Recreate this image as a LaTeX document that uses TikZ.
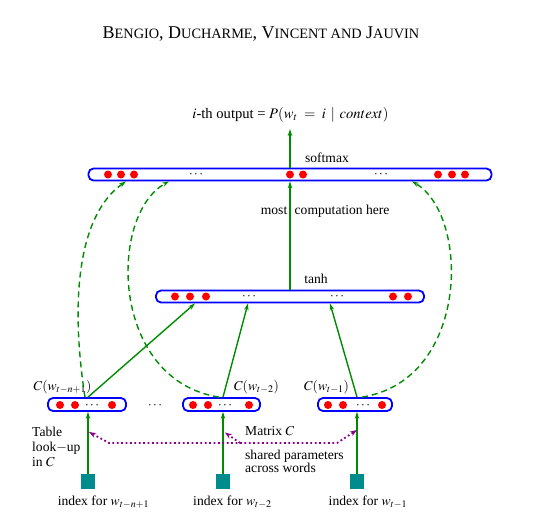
\documentclass[tikz,border=0pt]{standalone}
\usepackage{mathptmx}
\usepackage{fontspec}
\setmainfont{Liberation Serif}
\usetikzlibrary{arrows.meta,calc}
\definecolor{lblue}{RGB}{0,0,255}
\definecolor{dred}{RGB}{255,0,0}
\definecolor{dgreen}{RGB}{0,140,0}
\definecolor{dpurple}{RGB}{140,0,140}
\definecolor{dteal}{RGB}{0,140,140}
\newcommand\myscap[1]{{\fontsize{14.3}{15}\selectfont #1}}
\begin{document}
\begin{tikzpicture}[x=1pt,y=-1pt,
  layer/.style={draw=lblue, line width=1.8pt, rounded corners=5pt, inner sep=0pt, minimum height=12pt},
  rdot/.style={fill=dred},
  garr/.style={draw=dgreen, line width=1.4pt, -{Stealth[length=7pt,width=4.5pt]}},
  gdash/.style={garr, dash pattern=on 6pt off 4pt},
  parr/.style={draw=dpurple, line width=1.8pt, dash pattern=on 1.8pt off 2.6pt, {Stealth[length=7pt,width=5pt]}-{Stealth[length=7pt,width=5pt]}},
  parr1/.style={draw=dpurple, line width=1.8pt, dash pattern=on 1.8pt off 2.6pt, -{Stealth[length=7pt,width=5pt]}},
  idx/.style={fill=dteal, minimum width=14pt, minimum height=15pt, inner sep=0pt},
  lbl/.style={inner sep=0pt, font=\fontsize{13.6}{15}\selectfont},
  dts/.style={inner sep=0pt, font=\fontsize{13.2}{15}\selectfont, anchor=base},
]
\useasboundingbox (0,0) rectangle (549,522);
\fill[white] (0,0) rectangle (549,522);

% header
\node[inner sep=0pt, anchor=base, font=\fontsize{18}{20}\selectfont] (hdr) at (261,38.3)
  {B\myscap{ENGIO}, D\myscap{UCHARME}, V\myscap{INCENT AND} J\myscap{AUVIN}};

% output text
\node[lbl, anchor=base, font=\fontsize{14.6}{16}\selectfont] (out) at (290.5,118.5) {$i$-th output = $P(w_t \;=\; i \;\,|\;\, context)$};
\coordinate (outtip) at (290,129);

% softmax layer
\node[layer, minimum width=403pt] (soft) at (290,174.5) {};
\foreach \x in {108,121,134,290,303,438,452,465} \fill[rdot] (\x,174.5) circle (4);
\node[dts] (sd1) at (196,177.8) {$\cdots$};
\node[dts] (sd2) at (381,177.8) {$\cdots$};
\node[lbl, anchor=base] (softlbl) at (327,162.7) {softmax};

% tanh layer
\node[layer, minimum width=268pt] (tanh) at (290,296.5) {};
\foreach \x in {175,190,206,393,408} \fill[rdot] (\x,296.5) circle (4);
\node[dts] (td1) at (249,299.8) {$\cdots$};
\node[dts] (td2) at (337,299.8) {$\cdots$};
\node[lbl, anchor=base] (tanhlbl) at (316,283.3) {tanh};

% most computation here
\node[lbl, anchor=base east] (most) at (287.5,214) {most};
\node[lbl, anchor=base west] (comp) at (294.5,214) {computation here};

% bottom layers
\node[layer, minimum width=78pt, minimum height=13pt] (b1) at (87,404.5) {};
\node[layer, minimum width=77pt, minimum height=13pt] (b2) at (221.5,404.5) {};
\node[layer, minimum width=74pt, minimum height=13pt] (b3) at (355,404.5) {};
\foreach \x in {60,75,112,193,208,249,328,343,382} \fill[rdot] (\x,405) circle (4);
\node[dts] (bd1) at (92,408.3) {$\cdots$};
\node[dts] (bd2) at (225,408.3) {$\cdots$};
\node[dts] (bd3) at (363,408.3) {$\cdots$};
\node[dts] (bdm) at (155,408.3) {$\cdots$};

\node[lbl, anchor=base] (c1) at (62.5,390) {$C(w_{t-n+1})$};
\node[lbl, anchor=base] (c2) at (256.5,390) {$C(w_{t-2})$};
\node[lbl, anchor=base] (c3) at (326.5,390) {$C(w_{t-1})$};

% index squares
\node[idx] (s1) at (88,481.5) {};
\node[idx] (s2) at (223,481.5) {};
\node[idx] (s3) at (357,481.5) {};
\node[lbl, anchor=base] (l1) at (103.5,505.5) {index for $w_{t-n+1}$};
\node[lbl, anchor=base] (l2) at (232.5,505.5) {index for $w_{t-2}$};
\node[lbl, anchor=base] (l3) at (368,505.5) {index for $w_{t-1}$};

% side texts
\node[lbl, align=left, anchor=north west] (tbl) at (32,427) {Table\\look$-$up\\in $C$};
\node[lbl, anchor=base west] (mat) at (245,435) {Matrix $C$};
\node[lbl, align=left, anchor=north west, font=\fontsize{13.6}{12.4}\selectfont] (shr) at (245,450.3) {shared parameters\\across words};

% solid arrows
\draw[garr] (soft.north) -- (outtip);
\draw[garr] (tanh.north) -- (soft.south);
\draw[garr] (s1.north) -- (s1.north |- b1.south);
\draw[garr] (s2.north) -- (s2.north |- b2.south);
\draw[garr] (s3.north) -- (s3.north |- b3.south);
\draw[garr] ([xshift=1pt]b1.north) -- ([xshift=-95pt]tanh.south);
\draw[garr] ([xshift=1.5pt]b2.north) -- ([xshift=-42pt]tanh.south);
\draw[garr] ([xshift=2pt]b3.north) -- ([xshift=40pt]tanh.south);

% dashed curves
\draw[gdash] ([xshift=-2pt]b1.north) .. controls (70,300) and (78,215) .. ([xshift=-164pt]soft.south);
\draw[gdash] ([xshift=-2.5pt]b2.north) .. controls (110,380) and (108,215) .. ([xshift=-121pt]soft.south);
\draw[gdash] ([xshift=7pt]b3.north) .. controls (470,380) and (470,215) .. ([xshift=122pt]soft.south);

% shared parameter dotted arrows
\coordinate (hl) at (109,443);
\coordinate (hr) at (337,443);
\coordinate (hm) at (240,443);
\coordinate (pt1) at (89,432);
\coordinate (pt2) at (225,432.5);
\coordinate (pt3) at (357,430);
\draw[parr] (pt1) -- (hl) -- (hr) -- (pt3);
\draw[parr1] (hm) -- (pt2);
\end{tikzpicture}
\end{document}
